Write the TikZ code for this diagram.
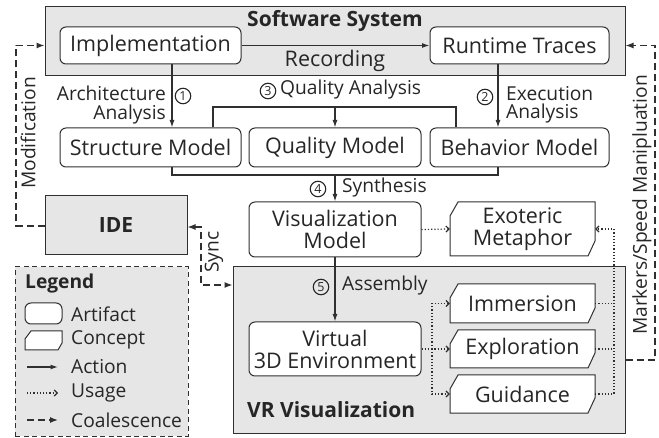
\documentclass[tikz,border=0pt]{standalone}
\usepackage{fontspec}
\setmainfont{Open Sans}
\usetikzlibrary{arrows.meta,calc}

\definecolor{linec}{HTML}{303030}
\definecolor{boxgray}{HTML}{E6E6E6}
\definecolor{textc}{HTML}{262626}

\newcommand\boxfont{\fontsize{21.5}{22}\selectfont}
\newcommand\labelfont{\fontsize{19.2}{18.5}\selectfont}
\newcommand\titlefont{\fontsize{21}{22}\selectfont\bfseries}

% concept: rectangle with the top-left and bottom-right corners cut off
% #1 name, #2 cx, #3 cy, #4 width, #5 height, #6 text
\newcommand\conceptbox[6]{%
  \draw[conceptline]
    ({#2-#4/2+8},{#3-#5/2}) -- ({#2+#4/2},{#3-#5/2})
    -- ({#2+#4/2},{#3+#5/2-15}) -- ({#2+#4/2-7},{#3+#5/2})
    -- ({#2-#4/2},{#3+#5/2}) -- ({#2-#4/2},{#3-#5/2+14}) -- cycle;
  \node[conceptnode, minimum width=#4pt, minimum height=#5pt] (#1) at (#2,#3) {#6};}

\tikzset{
  artifact/.style={draw=linec, line width=1pt, rounded corners=6pt, fill=white,
    font=\boxfont, align=center, inner sep=0pt, text=textc},
  conceptline/.style={draw=linec, line width=1pt, fill=white},
  conceptnode/.style={font=\boxfont, align=center, inner sep=0pt, text=textc},
  grouping/.style={draw=linec, line width=1pt, fill=boxgray, inner sep=0pt},
  lbl/.style={font=\labelfont, inner sep=0pt, text=textc},
  stepno/.style={circle, draw=textc, line width=1.1pt, minimum size=15.5pt,
    inner sep=0pt, font=\fontsize{12.5}{12.5}\selectfont, text=textc},
  plain/.style={draw=linec, line width=1.2pt},
  action/.style={plain, -{Latex[length=7.5pt,width=5pt]}},
  usage/.style={draw=linec, line width=1.2pt, dotted, -{Straight Barb[length=3pt,width=6pt]}},
  usageline/.style={draw=linec, line width=1.2pt, dotted},
  coal/.style={draw=linec, line width=1.2pt, dash pattern=on 7pt off 4pt,
    -{Latex[length=8pt,width=6pt]}},
}

\begin{document}
\begin{tikzpicture}[x=1pt,y=-1pt]
\useasboundingbox (0,0) rectangle (659,438);

% ---------- group boxes ----------
\node[grouping, minimum width=580pt, minimum height=69pt] (sys) at (335,41.5) {};
\node[font=\titlefont, inner sep=0pt, text=textc] (systitle) at (335,21) {Software System};

\node[grouping, minimum width=392pt, minimum height=166pt] (vr) at (429,350) {};
\node[font=\titlefont, inner sep=0pt, anchor=west, text=textc] (vrtitle) at (247,410) {VR Visualization};

\node[grouping, minimum width=142pt, minimum height=59pt, font=\titlefont, text=textc] (ide) at (116,225.5) {IDE};

% ---------- artifacts ----------
\node[artifact, minimum width=181pt, minimum height=37pt] (impl) at (150.5,45.5) {Implementation};
\node[artifact, minimum width=179pt, minimum height=37pt] (trace) at (519.5,45.5) {Runtime Traces};
\node[artifact, minimum width=181pt, minimum height=39pt] (struct) at (150.5,147.5) {Structure Model};
\node[artifact, minimum width=172pt, minimum height=39pt] (qual) at (335,147.5) {Quality Model};
\node[artifact, minimum width=179pt, minimum height=39pt] (behav) at (519.5,147.5) {Behavior Model};
\node[artifact, minimum width=172pt, minimum height=55pt] (vis) at (335,229.5) {Visualization\\Model};
\node[artifact, minimum width=172pt, minimum height=54pt] (virt) at (335,349) {Virtual\\3D Environment};

% ---------- concepts ----------
\conceptbox{exo}{522.5}{229}{145}{54}{Exoteric\\Metaphor}
\conceptbox{imm}{522.5}{303.5}{145}{39}{Immersion}
\conceptbox{expl}{522.5}{349}{145}{38}{Exploration}
\conceptbox{guid}{522.5}{394}{145}{38}{Guidance}

% ---------- actions ----------
\draw[action] (impl.east) -- (trace.west);
\node[lbl, font=\boxfont] (rec) at (335,61) {Recording};

\coordinate (xa) at (172,0);
\draw[action] (impl.south -| xa) -- (struct.north -| xa);
\node[lbl, align=right, anchor=east] (arch) at (166,105) {Architecture\\Analysis};
\node[stepno] (n1) at (183,96) {1};

\coordinate (xe) at (498,0);
\draw[action] (trace.south -| xe) -- (behav.north -| xe);
\node[lbl, align=left, anchor=west] (exec) at (506,105) {Execution\\Analysis};
\node[stepno] (n2) at (485,97) {2};

\coordinate (qL) at (213,107);
\coordinate (qR) at (456,107);
\draw[plain] (struct.north -| qL) -- (qL) -- (qR) -- (behav.north -| qR);
\draw[action] (qual.north |- qL) -- (qual.north);
\node[stepno] (n3) at (268,91) {3};
\node[lbl, anchor=west] (qa) at (280,90) {Quality Analysis};

\coordinate (sL) at (172,175);
\coordinate (sR) at (498,175);
\draw[plain] (struct.south -| sL) -- (sL) -- (sR) -- (behav.south -| sR);
\draw[action] (vis.north |- sL) -- (vis.north);
\node[stepno] (n4) at (318,189) {4};
\node[lbl, anchor=west] (syn) at (342,188) {Synthesis};

\draw[action] (vis.south) -- (virt.north);
\node[stepno] (n5) at (321,287) {5};
\node[lbl, anchor=west] (asm) at (342,286) {Assembly};

% ---------- usage ----------
\draw[usage] (vis.east) -- (exo.west);
\coordinate (jx) at (432,0);
\draw[usage] (virt.east) -- (expl.west);
\draw[usage] (jx |- virt.east) |- (imm.west);
\draw[usage] (jx |- virt.east) |- (guid.west);

\coordinate (jr) at (614,0);
\draw[usageline] (imm.east) -- (jr |- imm.east);
\draw[usageline] (expl.east) -- (jr |- expl.east);
\draw[usage] (guid.east) -| (jr |- exo.east) -- (exo.east);

% ---------- coalescence ----------
\coordinate (mA) at (655,360);
\coordinate (mB) at (655,45.5);
\draw[coal] (vr.east |- mA) -- (mA) -- (mB) -- (sys.east |- mB);
\node[lbl, rotate=90] (mk) at (642,205) {Markers/Speed Manipluation};

\coordinate (dA) at (16,226);
\coordinate (dB) at (16,45.5);
\draw[coal] (ide.west |- dA) -- (dA) -- (dB) -- (sys.west |- dB);
\node[lbl, rotate=90] (mod) at (28,133) {Modification};

\coordinate (yA) at (201,227);
\coordinate (yB) at (201,285);
\draw[coal, {Latex[length=8pt,width=6pt]}-{Latex[length=8pt,width=6pt]}]
  (ide.east |- yA) -- (yA) -- (yB) -- (vr.west |- yB);
\node[lbl, rotate=90] (sync) at (214,252) {Sync};

% ---------- legend ----------
\node[draw=linec, line width=1pt, dash pattern=on 5pt off 3.5pt, fill=boxgray,
  minimum width=173pt, minimum height=169pt, inner sep=0pt] (legend) at (101.5,351.5) {};
\node[font=\labelfont\bfseries, anchor=west, inner sep=0pt, text=textc] (legtitle) at (25,284) {Legend};

\node[artifact, minimum width=37pt, minimum height=21pt] (legart) at (43.5,313.5) {};
\node[lbl, anchor=west] (t1) at (71,314) {Artifact};

\draw[conceptline] (31,331) -- (62,331) -- (62,343) -- (58,350) -- (25,350) -- (25,339) -- cycle;
\node[lbl, anchor=west] (t2) at (71,340) {Concept};

\coordinate (l1a) at (27,367);
\coordinate (l1b) at (58,367);
\draw[action] (l1a) -- (l1b);
\node[lbl, anchor=west] (t3) at (71,367) {Action};

\coordinate (l2a) at (27,393);
\coordinate (l2b) at (58,393);
\draw[usage] (l2a) -- (l2b);
\node[lbl, anchor=west] (t4) at (71,393) {Usage};

\coordinate (l3a) at (27,420);
\coordinate (l3b) at (58,420);
\draw[coal] (l3a) -- (l3b);
\node[lbl, anchor=west] (t5) at (71,420) {Coalescence};
\end{tikzpicture}
\end{document}
